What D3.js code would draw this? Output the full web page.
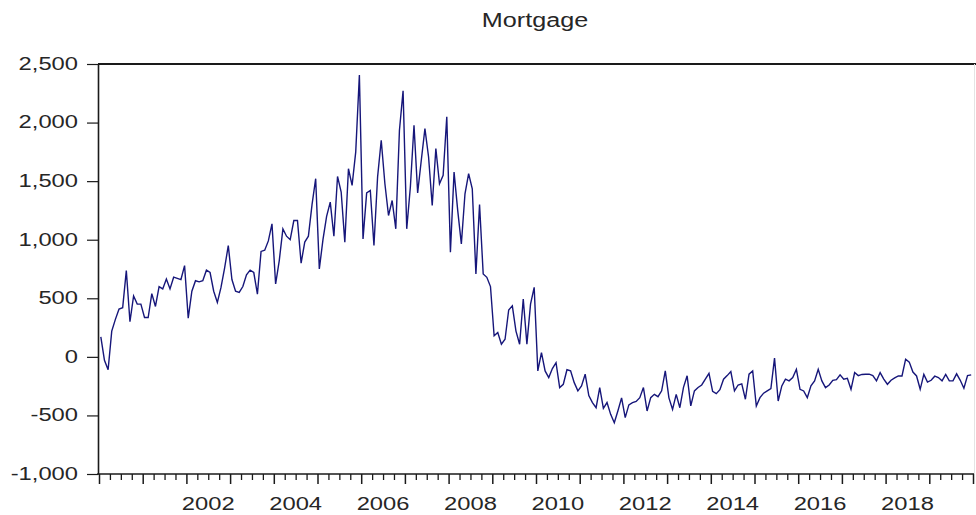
<!DOCTYPE html>
<html>
<head>
<meta charset="utf-8">
<script src="https://cdn.jsdelivr.net/npm/d3@7/dist/d3.min.js"></script>
<style>
  html, body { margin: 0; padding: 0; background: #ffffff; }
  svg { display: block; }
  text { font-family: "Liberation Sans", Arial, sans-serif; fill: #262626; }
</style>
</head>
<body>
<svg id="chart" width="976" height="515"></svg>
<script>
// Monthly mortgage series, January 2000 – December 2019 (one array per year)
const years = [2000, 2001, 2002, 2003, 2004, 2005, 2006, 2007, 2008, 2009,
               2010, 2011, 2012, 2013, 2014, 2015, 2016, 2017, 2018, 2019];

const v2000 = [171, -30, -110, 220, 320, 408, 420, 736, 300, 520, 450, 450];
const v2001 = [336, 336, 540, 430, 600, 580, 665, 580, 680, 670, 660, 779];
const v2002 = [330, 560, 650, 640, 650, 740, 720, 560, 465, 593, 760, 950];
const v2003 = [660, 560, 550, 600, 700, 740, 720, 536, 900, 910, 990, 1136];
const v2004 = [622, 822, 1093, 1030, 1000, 1164, 1164, 800, 980, 1030, 1300, 1521];
const v2005 = [751, 1000, 1200, 1321, 1030, 1540, 1407, 979, 1606, 1464, 1750, 2406];
const v2006 = [1007, 1400, 1421, 950, 1535, 1849, 1480, 1207, 1335, 1093, 1935, 2271];
const v2007 = [1093, 1450, 1977, 1400, 1678, 1949, 1706, 1292, 1778, 1478, 1549, 2049];
const v2008 = [893, 1578, 1250, 964, 1392, 1564, 1435, 707, 1300, 707, 679, 600];
const v2009 = [180, 208, 108, 150, 400, 435, 220, 108, 494, 109, 450, 594];
const v2010 = [-120, 37, -120, -177, -100, -50, -262, -234, -110, -120, -220, -290];
const v2011 = [-248, -148, -330, -390, -434, -262, -440, -390, -491, -562, -460, -350];
const v2012 = [-519, -410, -391, -380, -348, -262, -462, -348, -320, -340, -290, -120];
const v2013 = [-350, -448, -320, -434, -260, -162, -419, -291, -262, -240, -190, -140];
const v2014 = [-295, -314, -280, -191, -160, -126, -290, -240, -230, -362, -148, -120];
const v2015 = [-420, -348, -310, -290, -270, -11, -377, -248, -191, -205, -177, -106];
const v2016 = [-277, -291, -348, -248, -205, -106, -205, -263, -240, -200, -195, -154];
const v2017 = [-191, -183, -277, -134, -160, -150, -148, -148, -160, -205, -134, -190];
const v2018 = [-234, -200, -180, -163, -163, -20, -45, -130, -163, -277, -150, -215];
const v2019 = [-200, -165, -177, -205, -150, -205, -205, -145, -200, -268, -160, -154];

const yTicks = [-1000, -500, 0, 500, 1000, 1500, 2000, 2500];
const xLabels = ["2002", "2004", "2006", "2008", "2010", "2012", "2014", "2016", "2018"];
const title = "Mortgage";

const series = [].concat(v2000, v2001, v2002, v2003, v2004, v2005, v2006, v2007, v2008, v2009,
                         v2010, v2011, v2012, v2013, v2014, v2015, v2016, v2017, v2018, v2019);

const svg = d3.select("#chart");
const W = 976, H = 515;
const plotLeft = 99, plotRight = 973, plotTop = 64, plotBottom = 474;
const SX = 1.32; // horizontal stretch of the lettering

svg.append("rect").attr("width", W).attr("height", H).attr("fill", "#ffffff");

// time axis in months since Jan 2000
const nMonths = years.length * 12;
const x = d3.scaleLinear().domain([0, nMonths]).range([plotLeft, plotRight]);
const y = d3.scaleLinear().domain([-1000, 2500]).range([plotBottom, plotTop]);

// thousands separator, plain hyphen for negatives
const fmt = d3.formatLocale({ decimal: ".", thousands: ",", grouping: [3], currency: ["", ""], minus: "-" }).format(",");

// frame: top edge and faint right edge
svg.append("line").attr("x1", plotLeft - 1).attr("x2", W).attr("y1", plotTop).attr("y2", plotTop)
  .attr("stroke", "#1a1a1a").attr("stroke-width", 2);
svg.append("line").attr("x1", plotRight + 1.5).attr("x2", plotRight + 1.5).attr("y1", plotTop).attr("y2", plotBottom)
  .attr("stroke", "#e4e4e4").attr("stroke-width", 1);

// y axis
const yAxis = svg.append("g")
  .attr("transform", `translate(${plotLeft - 1},0)`)
  .call(d3.axisLeft(y).tickValues(yTicks).tickSize(11).tickSizeOuter(0).tickFormat(fmt));
yAxis.select(".domain").attr("stroke", "#1a1a1a").attr("stroke-width", 1.6);
yAxis.selectAll(".tick line").attr("stroke", "#1a1a1a").attr("stroke-width", 1.2);
yAxis.selectAll(".tick text")
  .attr("font-size", 18)
  .attr("x", -20 / SX)
  .attr("dy", "0.3em")
  .attr("transform", `scale(${SX},1)`)
  .attr("font-family", "'Liberation Sans', Arial, sans-serif")
  .attr("fill", "#262626");

// x axis: quarterly minor ticks, yearly major ticks
const minorVals = d3.range(0, nMonths + 1, 3).filter(m => m % 12 !== 0);
const majorVals = d3.range(0, nMonths + 1, 12);
const xMinor = svg.append("g")
  .attr("transform", `translate(0,${plotBottom})`)
  .call(d3.axisBottom(x).tickValues(minorVals).tickSize(6).tickSizeOuter(0).tickFormat(""));
xMinor.select(".domain").attr("stroke", "#1a1a1a").attr("stroke-width", 1.6)
  .attr("d", `M${plotLeft - 1.8},0H${plotRight + 1}`);
xMinor.selectAll(".tick line").attr("stroke", "#1a1a1a").attr("stroke-width", 1.3);
const xMajor = svg.append("g")
  .attr("transform", `translate(0,${plotBottom})`)
  .call(d3.axisBottom(x).tickValues(majorVals).tickSize(10).tickSizeOuter(0).tickFormat(""));
xMajor.select(".domain").remove();
xMajor.selectAll(".tick line").attr("stroke", "#1a1a1a").attr("stroke-width", 1.5);

// year labels centred on their year
svg.append("g").selectAll("g").data(xLabels).join("g")
  .attr("transform", d => `translate(${x((+d - years[0]) * 12 + 6)},${plotBottom + 36})`)
  .append("text")
  .attr("text-anchor", "middle")
  .attr("font-size", 18)
  .attr("transform", `scale(${SX},1)`)
  .text(d => d);

// title
svg.append("g").attr("transform", `translate(535,26.5)`)
  .append("text")
  .attr("text-anchor", "middle")
  .attr("font-size", 21)
  .attr("transform", `scale(1.2,1)`)
  .text(title);

// the series
const line = d3.line()
  .x((d, i) => x(i + 0.5))
  .y(d => y(d));
svg.append("path")
  .datum(series)
  .attr("fill", "none")
  .attr("stroke", "#16167a")
  .attr("stroke-width", 1.4)
  .attr("stroke-linejoin", "miter")
  .attr("d", line);
</script>
</body>
</html>
